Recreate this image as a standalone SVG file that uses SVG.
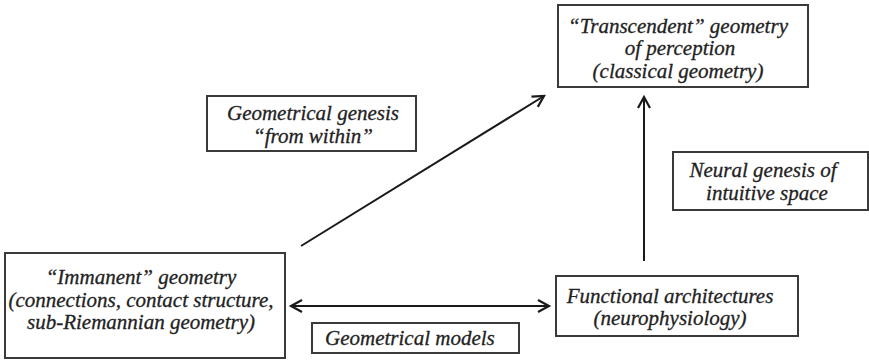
<svg xmlns="http://www.w3.org/2000/svg" width="869" height="361" viewBox="0 0 869 361">
<style>
.box{fill:#fff;stroke:#3a3a3a;stroke-width:2}
.t{font-family:'Liberation Serif',serif;font-style:italic;font-size:21px;fill:#222;stroke:#222;stroke-width:0.3}
.c{text-anchor:middle}
.ln{stroke:#1a1a1a;stroke-width:2;fill:none}
</style>
<defs>
<marker id="ah" markerWidth="16" markerHeight="16" refX="13" refY="8" orient="auto-start-reverse" markerUnits="userSpaceOnUse">
<path d="M2,2 L13,8 L2,14" fill="none" stroke="#1a1a1a" stroke-width="2.2"/>
</marker>
</defs>
<rect width="869" height="361" fill="#fff"/>
<g id="connectors">
<line class="ln" x1="301" y1="246" x2="544" y2="96" marker-end="url(#ah)"/>
<line class="ln" x1="644" y1="261" x2="644" y2="97" marker-end="url(#ah)"/>
<line class="ln" x1="291" y1="306" x2="549" y2="306" marker-start="url(#ah)" marker-end="url(#ah)"/>
</g>
<g id="transcendent">
<rect class="box" x="558" y="5" width="250" height="82"/>
<text class="t c" x="678" y="33">“Transcendent” geometry</text>
<text class="t c" x="680" y="55">of perception</text>
<text class="t c" x="678" y="78">(classical geometry)</text>
</g>
<g id="genesis-within">
<rect class="box" x="207" y="96" width="209" height="55"/>
<text class="t c" x="313" y="120">Geometrical genesis</text>
<text class="t c" x="313" y="143">“from within”</text>
</g>
<g id="neural-genesis">
<rect class="box" x="673" y="152" width="195" height="58"/>
<text class="t c" x="763" y="177">Neural genesis of</text>
<text class="t c" x="767" y="200">intuitive space</text>
</g>
<g id="immanent">
<rect class="box" x="5" y="253" width="280" height="105"/>
<text class="t c" x="141" y="284">“Immanent” geometry</text>
<text class="t c" x="141" y="307">(connections, contact structure,</text>
<text class="t c" x="141" y="329">sub-Riemannian geometry)</text>
</g>
<g id="functional">
<rect class="box" x="556" y="276" width="242" height="60"/>
<text class="t c" x="670" y="303">Functional architectures</text>
<text class="t c" x="670" y="325">(neurophysiology)</text>
</g>
<g id="models">
<rect class="box" x="312" y="323" width="207" height="30"/>
<text class="t" x="325" y="345">Geometrical models</text>
</g>
</svg>
